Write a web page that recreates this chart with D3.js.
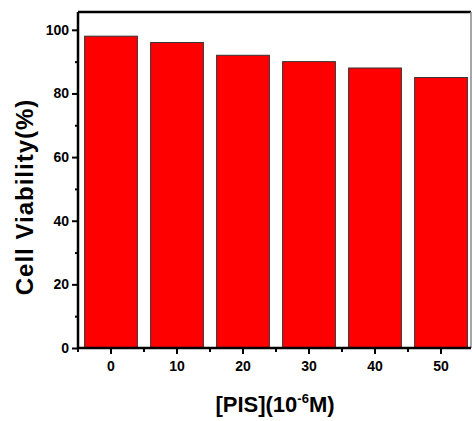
<!DOCTYPE html>
<html>
<head>
<meta charset="utf-8">
<script src="https://cdn.jsdelivr.net/npm/d3@7"></script>
<style>
  body { margin: 0; background: #fff; }
  svg { display: block; }
  text { font-family: "Liberation Sans", Arial, sans-serif; }
</style>
</head>
<body>
<svg width="472" height="421"></svg>
<script>
// concentrations of PIS (10^-6 M)
var categories = ["0", "10", "20", "30", "40", "50"];
// cell viability (%)
var viability = [98, 96, 92, 90, 88, 85];
var yMajor = [0, 20, 40, 60, 80, 100];
var yMinor = [10, 30, 50, 70, 90];

var svg = d3.select("svg"),
    plotLeft = 78, plotRight = 474, plotTop = 12, plotBottom = 348, frameRight = 471;

var x = d3.scaleBand()
    .domain(categories)
    .range([plotLeft, plotRight])
    .paddingInner(0.2)
    .paddingOuter(0.1);

var y = d3.scaleLinear()
    .domain([0, 105.6])
    .range([plotBottom, plotTop]);

// bars
svg.append("g").selectAll("rect")
  .data(viability)
  .enter().append("rect")
    .attr("x", function(d, i) { return x(categories[i]); })
    .attr("y", function(d) { return y(d); })
    .attr("width", x.bandwidth())
    .attr("height", function(d) { return y(0) - y(d); })
    .attr("fill", "#ff0000")
    .attr("stroke", "#333")
    .attr("stroke-width", 1);

// frame
svg.append("line").attr("x1", plotLeft).attr("x2", frameRight).attr("y1", plotTop).attr("y2", plotTop)
    .attr("stroke", "#000").attr("stroke-width", 2.5);
svg.append("line").attr("x1", frameRight).attr("x2", frameRight).attr("y1", plotTop).attr("y2", plotBottom)
    .attr("stroke", "#888").attr("stroke-width", 1.5);

// y axis
var yAxis = svg.append("g")
    .attr("transform", "translate(" + plotLeft + ",0)")
    .call(d3.axisLeft(y).tickValues(yMajor).tickSize(6).tickPadding(3));
var yMin = svg.append("g")
    .attr("transform", "translate(" + plotLeft + ",0)")
    .call(d3.axisLeft(y).tickValues(yMinor).tickSize(3).tickFormat(""));
yMin.select(".domain").remove();

// x axis
var xAxis = svg.append("g")
    .attr("transform", "translate(0," + plotBottom + ")")
    .call(d3.axisBottom(x).tickSize(6).tickPadding(7).tickSizeOuter(0));
var minorX = categories.map(function(c) { return x(c) + x.bandwidth() / 2 - x.step() / 2; });
svg.append("g").selectAll("line")
  .data(minorX)
  .enter().append("line")
    .attr("x1", function(d) { return d; })
    .attr("x2", function(d) { return d; })
    .attr("y1", plotBottom)
    .attr("y2", plotBottom + 4)
    .attr("stroke", "#000")
    .attr("stroke-width", 2);

[yAxis, xAxis, yMin].forEach(function(g) {
  g.selectAll(".domain").attr("stroke", "#000").attr("stroke-width", 2.5);
  g.selectAll(".tick line").attr("stroke", "#000").attr("stroke-width", 2);
  g.selectAll(".tick text")
    .attr("fill", "#000")
    .style("font-size", "14px")
    .style("font-weight", "bold");
});
yAxis.select(".domain").attr("d", "M0," + (plotBottom + 1) + "V" + plotTop);
xAxis.select(".domain").attr("d", "M" + plotLeft + ",0H" + frameRight);

// axis titles
svg.append("text")
    .attr("transform", "translate(33," + ((plotTop + plotBottom) / 2 + 17) + ") rotate(-90)")
    .attr("text-anchor", "middle")
    .style("font-size", "24px")
    .style("font-weight", "bold")
    .style("letter-spacing", "1px")
    .text("Cell Viability(%)");

var xt = svg.append("text")
    .attr("x", 275)
    .attr("y", 412)
    .attr("text-anchor", "middle")
    .style("font-size", "22px")
    .style("font-weight", "bold");
xt.append("tspan").text("[PIS](10");
xt.append("tspan").attr("dy", -9).style("font-size", "13px").text("-6");
xt.append("tspan").attr("dy", 9).text("M)");
</script>
</body>
</html>
